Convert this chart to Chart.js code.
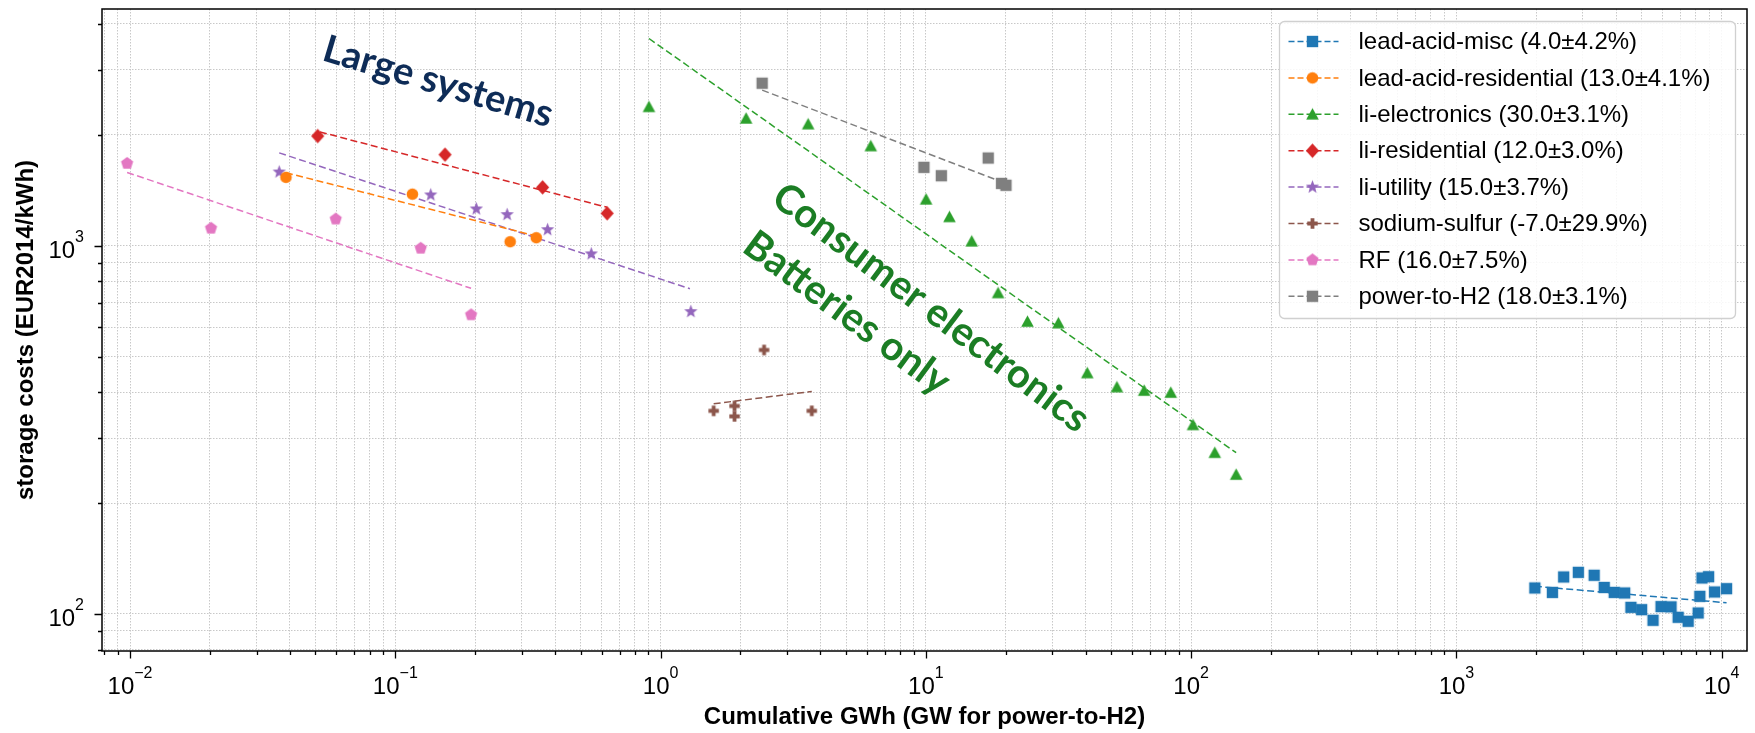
<!DOCTYPE html>
<html>
<head>
<meta charset="utf-8">
<script src="https://cdn.jsdelivr.net/npm/chart.js"></script>
<style>
  html, body { margin: 0; padding: 0; background: #fff; }
  #wrap { width: 1755px; height: 733px; }
</style>
</head>
<body>
<div id="wrap"><canvas id="chart"></canvas></div>
<script>
// ---- values (x: cumulative GWh, y: EUR2014/kWh) ----
const seriesNames = ['lead-acid-misc', 'lead-acid-residential', 'li-electronics', 'li-residential',
                     'li-utility', 'sodium-sulfur', 'RF', 'power-to-H2'];
const learningRates = [4.0, 13.0, 30.0, 12.0, 15.0, -7.0, 16.0, 18.0];
const rateErrors    = [4.2, 4.1, 3.1, 3.0, 3.7, 29.9, 7.5, 3.1];

const leadAcidMiscX = [1975, 2301, 2536, 2881, 3305, 3606, 3934, 4307, 4547, 4990, 5510,
                       5905, 6442, 6851, 7472, 8150, 8273, 8425, 8925, 9398, 10430];
const leadAcidMiscY = [117.6, 114.4, 126, 129.7, 127.3, 118, 114.4, 114, 104.2, 102.7, 96.1,
                       104.7, 104.5, 97.9, 95.5, 100.6, 111.6, 125.2, 126.2, 114.7, 117.1];
const leadAcidResX = [0.0387, 0.116, 0.271, 0.340];
const leadAcidResY = [1533, 1380, 1025, 1051];
const liElectronicsX = [0.904, 2.10, 3.60, 6.20, 10.02, 12.27, 14.89, 18.72, 24.15, 31.6,
                        40.6, 52.5, 66.5, 83.8, 101.6, 122.8, 147.8];
const liElectronicsY = [2383, 2216, 2138, 1865, 1336, 1197, 1028, 744, 622, 616,
                        451, 413, 404, 399, 326, 274, 239];
const liResidentialX = [0.051, 0.154, 0.359, 0.629];
const liResidentialY = [1985, 1767, 1440, 1224];
const liUtilityX = [0.0365, 0.136, 0.202, 0.264, 0.375, 0.548, 1.30];
const liUtilityY = [1585, 1373, 1258, 1214, 1105, 950, 662];
const sodiumSulfurX = [1.585, 1.90, 1.90, 2.455, 3.715];
const sodiumSulfurY = [356, 367, 344, 521, 356];
const rfX = [0.00975, 0.0202, 0.0596, 0.1247, 0.193];
const rfY = [1673, 1115, 1181, 984, 649];
const powerToH2X = [2.415, 9.83, 11.44, 17.18, 19.28, 20.04];
const powerToH2Y = [2762, 1632, 1549, 1730, 1476, 1459];

// fitted learning-curve lines: [x0, y0, x1, y1]
const fitLeadAcidMisc = [1975, 118.9, 10430, 107.2];
const fitLeadAcidRes  = [0.0387, 1578, 0.340, 1062];
const fitLiElectronics = [0.904, 3653, 147.8, 274];
const fitLiResidential = [0.052, 2037, 0.629, 1271];
const fitLiUtility    = [0.0365, 1787, 1.29, 764];
const fitSodiumSulfur = [1.585, 372, 3.715, 402];
const fitRF           = [0.00975, 1581, 0.193, 766];
const fitPowerToH2    = [2.415, 2645, 19.3, 1491];

// axis ticks
const xTickValues = [1e-2, 1e-1, 1, 10, 100, 1000, 1e4];
const xTickExps   = ['\u22122', '\u22121', '0', '1', '2', '3', '4'];
const yTickValues = [100, 1000];
const yTickExps   = ['2', '3'];

const xs = [leadAcidMiscX, leadAcidResX, liElectronicsX, liResidentialX, liUtilityX, sodiumSulfurX, rfX, powerToH2X];
const ys = [leadAcidMiscY, leadAcidResY, liElectronicsY, liResidentialY, liUtilityY, sodiumSulfurY, rfY, powerToH2Y];
const fits = [fitLeadAcidMisc, fitLeadAcidRes, fitLiElectronics, fitLiResidential, fitLiUtility, fitSodiumSulfur, fitRF, fitPowerToH2];

const colors = ['#1f77b4', '#ff7f0e', '#2ca02c', '#d62728', '#9467bd', '#8c564b', '#e377c2', '#7f7f7f'];
const shapes = ['square', 'circle', 'triangle', 'diamond', 'star', 'plus', 'pentagon', 'square'];

const FONT = "'Liberation Sans', Arial, Helvetica, sans-serif";

function polygon(g, n, r, inner) {
  const pts = inner ? n * 2 : n;
  for (let k = 0; k < pts; k++) {
    const rad = inner && k % 2 ? r * inner : r;
    const a = -Math.PI / 2 + k * Math.PI * 2 / pts;
    const px = rad * Math.cos(a), py = rad * Math.sin(a);
    k === 0 ? g.moveTo(px, py) : g.lineTo(px, py);
  }
  g.closePath();
}

function markerCanvas(shape, color) {
  const c = document.createElement('canvas');
  c.width = 19; c.height = 19;
  const g = c.getContext('2d');
  g.translate(9.5, 9.5);
  g.fillStyle = color;
  g.beginPath();
  if (shape === 'square') g.rect(-5.7, -5.7, 11.4, 11.4);
  else if (shape === 'circle') g.arc(0, 0, 5.8, 0, Math.PI * 2);
  else if (shape === 'triangle') { g.moveTo(0, -6.2); g.lineTo(6.3, 5.2); g.lineTo(-6.3, 5.2); g.closePath(); }
  else if (shape === 'diamond') { g.moveTo(0, -7.2); g.lineTo(6.6, 0); g.lineTo(0, 7.2); g.lineTo(-6.6, 0); g.closePath(); }
  else if (shape === 'star') polygon(g, 5, 7, 0.42);
  else if (shape === 'pentagon') polygon(g, 5, 6.4);
  else if (shape === 'plus') { g.rect(-1.9, -5.2, 3.8, 10.4); g.rect(-5.2, -1.9, 10.4, 3.8); }
  g.fill();
  return c;
}
const markers = shapes.map((s, i) => markerCanvas(s, colors[i]));

const datasets = [];
seriesNames.forEach((name, i) => {
  datasets.push({
    label: name,
    data: xs[i].map((x, j) => ({x: x, y: ys[i][j]})),
    pointStyle: markers[i],
    pointRadius: 5,
    showLine: false,
    order: 0
  });
});
seriesNames.forEach((name, i) => {
  const f = fits[i];
  datasets.push({
    label: name + ' fit',
    data: [{x: f[0], y: f[1]}, {x: f[2], y: f[3]}],
    showLine: true,
    pointRadius: 0,
    borderColor: colors[i],
    borderWidth: 1.5,
    borderDash: [7, 3.5],
    order: 1
  });
});

function logTicks(min, max) {
  const out = [];
  for (let e = Math.floor(Math.log10(min)); e <= Math.ceil(Math.log10(max)); e++) {
    for (let m = 1; m <= 9; m++) {
      const v = +(m * Math.pow(10, e)).toPrecision(6);
      if (v >= min && v <= max) out.push({value: v, major: m === 1});
    }
  }
  return out;
}

function drawPow(ctx, exp, x, baseline, align) {
  ctx.font = '24px ' + FONT;
  const wb = ctx.measureText('10').width;
  ctx.font = '16px ' + FONT;
  const we = ctx.measureText(exp).width;
  const left = align === 'center' ? x - (wb + we) / 2 : x - wb - we;
  ctx.textAlign = 'left';
  ctx.textBaseline = 'alphabetic';
  ctx.font = '24px ' + FONT;
  ctx.fillText('10', left, baseline);
  ctx.font = '16px ' + FONT;
  ctx.fillText(exp, left + wb, baseline - 16.5);
}

const axisDecor = {
  id: 'axisDecor',
  afterDraw(chart) {
    const {ctx, chartArea: a, scales: {x, y}} = chart;
    ctx.save();
    ctx.strokeStyle = '#000';
    ctx.lineWidth = 1.3;
    ctx.beginPath();
    x.ticks.forEach(t => {
      const px = Math.round(x.getPixelForValue(t.value)) + 0.5;
      ctx.moveTo(px, a.bottom);
      ctx.lineTo(px, a.bottom + (t.major ? 7.5 : 4));
    });
    y.ticks.forEach(t => {
      const py = Math.round(y.getPixelForValue(t.value)) + 0.5;
      ctx.moveTo(a.left, py);
      ctx.lineTo(a.left - (t.major ? 7.5 : 4), py);
    });
    ctx.stroke();
    ctx.lineWidth = 1.5;
    ctx.strokeRect(a.left, a.top, a.right - a.left, a.bottom - a.top);
    ctx.fillStyle = '#000';
    xTickValues.forEach((v, i) => drawPow(ctx, xTickExps[i], x.getPixelForValue(v), a.bottom + 43, 'center'));
    yTickValues.forEach((v, i) => drawPow(ctx, yTickExps[i], a.left - 18, y.getPixelForValue(v) + 12.5, 'right'));
    ctx.restore();
  }
};

const annotations = [
  {text: 'Large systems', x: 0.145, y: 2783, angle: 16.5, color: '#0e2c57', size: 38},
  {text: 'Consumer electronics', x: 10.45, y: 678, angle: 37, color: '#1b7d24', size: 40},
  {text: 'Batteries only', x: 5.04, y: 656, angle: 36.5, color: '#1b7d24', size: 40}
];

const textNotes = {
  id: 'textNotes',
  afterDatasetsDraw(chart) {
    const {ctx, scales: {x, y}} = chart;
    annotations.forEach(n => {
      ctx.save();
      ctx.translate(x.getPixelForValue(n.x), y.getPixelForValue(n.y));
      ctx.rotate(n.angle * Math.PI / 180);
      ctx.font = 'bold ' + n.size + 'px Lato, "Open Sans", sans-serif';
      ctx.fillStyle = n.color;
      ctx.textAlign = 'center';
      ctx.textBaseline = 'middle';
      ctx.fillText(n.text, 0, 0);
      ctx.restore();
    });
  }
};

const legendBox = {
  id: 'legendBox',
  afterDraw(chart) {
    const {ctx, chartArea: a} = chart;
    const w = 456, h = 297;
    const x0 = a.right - 12 - w + 0.5, y0 = a.top + 12 + 0.5;
    ctx.save();
    ctx.beginPath();
    ctx.roundRect(x0, y0, w, h, 5);
    ctx.fillStyle = 'rgba(255,255,255,0.85)';
    ctx.fill();
    ctx.strokeStyle = '#d0d0d0';
    ctx.lineWidth = 1.3;
    ctx.stroke();
    seriesNames.forEach((name, i) => {
      const cy = y0 + 20 + i * 36.4;
      ctx.beginPath();
      ctx.setLineDash([6, 3]);
      ctx.strokeStyle = colors[i];
      ctx.lineWidth = 1.5;
      ctx.moveTo(x0 + 9, cy);
      ctx.lineTo(x0 + 59, cy);
      ctx.stroke();
      ctx.setLineDash([]);
      ctx.drawImage(markers[i], x0 + 33 - 9.5, cy - 9.5);
      ctx.fillStyle = '#000';
      ctx.font = '24px ' + FONT;
      ctx.textAlign = 'left';
      ctx.textBaseline = 'middle';
      const label = name + ' (' + learningRates[i].toFixed(1) + '\u00b1' + rateErrors[i].toFixed(1) + '%)';
      ctx.fillText(label, x0 + 79, cy + 1);
    });
    ctx.restore();
  }
};

const gridStyle = {color: '#c8c8c8', lineWidth: 1, drawTicks: false};
const borderStyle = {display: false, dash: [1.5, 1.5]};

new Chart(document.getElementById('chart'), {
  type: 'scatter',
  data: {datasets: datasets},
  options: {
    responsive: true,
    maintainAspectRatio: false,
    animation: false,
    devicePixelRatio: 1,
    layout: {padding: {top: 9, right: 8, bottom: 0, left: 0}},
    plugins: {legend: {display: false}, tooltip: {enabled: false}},
    scales: {
      x: {
        type: 'logarithmic',
        position: 'bottom',
        min: 0.00784,
        max: 12455,
        afterBuildTicks: s => { s.ticks = logTicks(s.min, s.max); },
        afterFit: s => { s.height = 82; },
        ticks: {display: false},
        grid: gridStyle,
        border: borderStyle,
        title: {
          display: true,
          text: 'Cumulative GWh (GW for power-to-H2)',
          color: '#000',
          font: {family: FONT, size: 24, weight: 'bold', lineHeight: 1.2},
          padding: {top: 0, bottom: 1}
        }
      },
      y: {
        type: 'logarithmic',
        position: 'left',
        min: 79.3,
        max: 4393,
        afterBuildTicks: s => { s.ticks = logTicks(s.min, s.max); },
        afterFit: s => { s.width = 102; },
        ticks: {display: false},
        grid: gridStyle,
        border: borderStyle,
        title: {
          display: true,
          text: 'storage costs (EUR2014/kWh)',
          color: '#000',
          font: {family: FONT, size: 24, weight: 'bold', lineHeight: 1.2},
          padding: {top: 12, bottom: 0}
        }
      }
    }
  },
  plugins: [textNotes, axisDecor, legendBox]
});
</script>
</body>
</html>
